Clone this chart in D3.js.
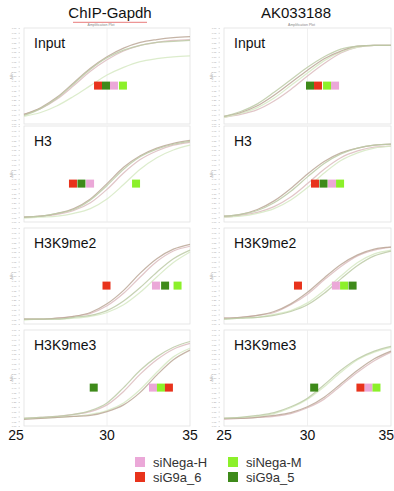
<!DOCTYPE html>
<html><head><meta charset="utf-8">
<script src="https://cdn.jsdelivr.net/npm/d3@7"></script>
<style>html,body{margin:0;padding:0;background:#fff;}svg{display:block;font-family:"Liberation Sans",Arial,Helvetica,sans-serif;}</style>
</head><body><div id="chart"></div>
<script>
// ---------- data ----------
const genes = ["ChIP-Gapdh", "AK033188"];
const panels = ["Input", "H3", "H3K9me2", "H3K9me3"];
const samples = ["siNega-H", "siNega-M", "siG9a_6", "siG9a_5"];
const cycles = [25, 26, 27, 28, 29, 30, 31, 32, 33, 34, 35];
const xTicks = [25, 30, 35];
// Ct markers, per panel, in sample order [siNega-H, siNega-M, siG9a_6, siG9a_5]
const ctGapdh = [
  [30.42, 30.96, 29.46, 29.94],
  [28.98, 31.75, 27.95, 28.46],
  [32.95, 34.25, 29.97, 33.50],
  [32.77, 33.25, 33.73, 29.20]
];
const ctAK = [
  [31.65, 31.17, 30.63, 30.15],
  [31.47, 31.95, 30.45, 30.96],
  [31.70, 32.19, 29.43, 32.70],
  [33.65, 34.13, 33.17, 30.40]
];
// amplification curves (normalised dRn at cycles 25..35), sample order as above
const curvesGapdh = [
  [[0.10,0.16,0.26,0.40,0.55,0.67,0.76,0.82,0.85,0.87,0.88],
   [0.08,0.12,0.19,0.29,0.40,0.51,0.59,0.65,0.68,0.70,0.71],
   [0.10,0.17,0.28,0.43,0.58,0.70,0.79,0.85,0.88,0.90,0.91],
   [0.09,0.16,0.27,0.42,0.57,0.69,0.77,0.82,0.85,0.86,0.87]],
  [[0.05,0.06,0.08,0.12,0.20,0.34,0.51,0.65,0.74,0.80,0.83],
   [0.04,0.05,0.06,0.09,0.14,0.24,0.39,0.55,0.67,0.75,0.80],
   [0.05,0.06,0.09,0.14,0.24,0.40,0.57,0.69,0.77,0.82,0.85],
   [0.05,0.06,0.09,0.13,0.23,0.38,0.55,0.68,0.76,0.81,0.84]],
  [[0.05,0.05,0.06,0.08,0.11,0.19,0.32,0.49,0.65,0.76,0.81],
   [0.04,0.05,0.05,0.06,0.08,0.12,0.20,0.33,0.49,0.64,0.75],
   [0.05,0.05,0.06,0.08,0.12,0.21,0.35,0.53,0.68,0.78,0.83],
   [0.05,0.05,0.05,0.07,0.09,0.14,0.24,0.38,0.54,0.68,0.77]],
  [[0.08,0.09,0.10,0.12,0.15,0.22,0.36,0.54,0.69,0.80,0.86],
   [0.08,0.08,0.09,0.10,0.12,0.16,0.24,0.38,0.56,0.72,0.81],
   [0.07,0.08,0.09,0.10,0.11,0.15,0.22,0.35,0.53,0.69,0.79],
   [0.08,0.09,0.10,0.12,0.16,0.24,0.40,0.58,0.72,0.82,0.88]]
];
const curvesAK = [
  [[0.07,0.10,0.15,0.24,0.36,0.50,0.63,0.74,0.80,0.82,0.82],
   [0.07,0.11,0.17,0.27,0.40,0.53,0.66,0.75,0.80,0.82,0.82],
   [0.08,0.12,0.19,0.30,0.43,0.56,0.68,0.76,0.81,0.82,0.82],
   [0.08,0.13,0.21,0.33,0.46,0.59,0.70,0.78,0.81,0.82,0.82]],
  [[0.05,0.07,0.10,0.16,0.26,0.40,0.55,0.67,0.74,0.78,0.79],
   [0.05,0.06,0.09,0.14,0.23,0.36,0.51,0.64,0.72,0.77,0.79],
   [0.06,0.08,0.13,0.22,0.35,0.50,0.63,0.72,0.77,0.80,0.81],
   [0.06,0.08,0.12,0.20,0.32,0.47,0.61,0.71,0.77,0.80,0.81]],
  [[0.06,0.07,0.09,0.12,0.20,0.31,0.46,0.60,0.71,0.77,0.80],
   [0.05,0.06,0.07,0.10,0.14,0.22,0.35,0.50,0.64,0.73,0.77],
   [0.06,0.07,0.09,0.13,0.21,0.33,0.48,0.62,0.72,0.78,0.80],
   [0.05,0.06,0.07,0.09,0.13,0.20,0.32,0.47,0.61,0.71,0.76]],
  [[0.07,0.08,0.09,0.10,0.13,0.19,0.28,0.42,0.56,0.68,0.77],
   [0.08,0.09,0.10,0.13,0.19,0.28,0.41,0.56,0.69,0.77,0.82],
   [0.08,0.08,0.09,0.11,0.14,0.20,0.30,0.44,0.58,0.70,0.78],
   [0.08,0.09,0.11,0.14,0.20,0.29,0.43,0.58,0.70,0.78,0.83]]
];
const yTickVals = [0,0.05,0.1,0.15,0.2,0.25,0.3,0.35,0.4,0.45,0.5,0.55,0.6,0.65,0.7,0.75,0.8,0.85,0.9,0.95,1.0];

// ---------- styles ----------
const markColors = ["#eba8d8", "#8cf02a", "#e8331c", "#3e8a1a"];
const curveColors = ["#dcbcbe", "#d6e9c3", "#bba796", "#bccaa6"];

// ---------- drawing ----------
const W = 394, H = 491;
const svg = d3.select("#chart").append("svg").attr("width", W).attr("height", H);
const cols = [
  {x0: 24, x1: 190, ct: ctGapdh, curves: curvesGapdh, titleX: 110, tickDx: [-8, 0, 0], anchor: ["middle","middle","middle"]},
  {x0: 224, x1: 391, ct: ctAK, curves: curvesAK, titleX: 296, tickDx: [0, 0, 3], anchor: ["middle","middle","end"]}
];
const tops = [28, 126, 228, 330], ph = 96;

cols.forEach((c, ci) => {
  const x = d3.scaleLinear().domain([25, 35]).range([c.x0, c.x1]);
  svg.append("text").attr("x", c.titleX).attr("y", 18).attr("text-anchor", "middle")
    .attr("font-size", 15).attr("fill", "#111").text(genes[ci]);
  svg.append("text").attr("x", (c.x0 + c.x1) / 2 - 6).attr("y", 26).attr("text-anchor", "middle")
    .attr("font-size", 3.5).attr("fill", "#888").text("Amplification Plot");

  panels.forEach((p, pi) => {
    const top = tops[pi];
    const y = d3.scaleLinear().domain([0, 1]).range([top + ph, top]);
    const g = svg.append("g");
    // frame
    g.append("rect").attr("x", c.x0).attr("y", top).attr("width", c.x1 - c.x0).attr("height", ph)
      .attr("fill", "none").attr("stroke", "#e2e2e2").attr("stroke-width", 0.8);
    g.append("line").attr("x1", x(30)).attr("x2", x(30)).attr("y1", top).attr("y2", top + ph)
      .attr("stroke", "#ececec").attr("stroke-width", 0.8);
    // tiny y axis
    const ax = g.append("g").attr("transform", `translate(${c.x0 - 4},0)`)
      .call(d3.axisLeft(y).tickValues(yTickVals).tickSize(1.5).tickFormat(d3.format(".2f")));
    ax.select(".domain").remove();
    ax.selectAll("line").attr("stroke", "#bbb").attr("stroke-width", 0.5);
    ax.selectAll("text").attr("font-size", 2.5).attr("fill", "#aaa").attr("dx", 1);
    g.append("text").attr("transform", `translate(${c.x0 - 11},${top + ph / 2}) rotate(-90)`)
      .attr("text-anchor", "middle").attr("font-size", 3.5).attr("fill", "#999").text("ΔRn");
    // curves
    const line = d3.line().x((d, i) => x(cycles[i])).y(d => y(d)).curve(d3.curveMonotoneX);
    c.curves[pi].forEach((vals, si) => {
      g.append("path").attr("d", line(vals)).attr("fill", "none")
        .attr("stroke", curveColors[si]).attr("stroke-width", 1.25).attr("opacity", 0.85);
    });
    // Ct markers
    c.ct[pi].forEach((v, si) => {
      g.append("rect").attr("x", x(v) - 4).attr("y", y(0.4) - 4).attr("width", 8).attr("height", 8)
        .attr("fill", markColors[si]);
    });
    // panel label
    g.append("text").attr("x", c.x0 + 10).attr("y", top + 20).attr("font-size", 14)
      .attr("fill", "#111").text(p);
  });

  // x tick labels
  xTicks.forEach((t, ti) => {
    svg.append("text").attr("x", x(t) + c.tickDx[ti]).attr("y", 440).attr("text-anchor", c.anchor[ti])
      .attr("font-size", 14).attr("fill", "#111").text(t);
  });
});

// spell-check squiggle under first title
(function () {
  const pts = [];
  for (let xx = 73; xx <= 147; xx += 2) pts.push([xx, 21.5 + ((xx / 2) % 2 ? 0.8 : -0.2)]);
  svg.append("path").attr("d", d3.line()(pts)).attr("fill", "none").attr("stroke", "#e04040").attr("stroke-width", 0.7);
})();

// legend
const legendPos = [[135, 457], [228, 457], [135, 472], [228, 472]];
samples.forEach((s, i) => {
  const [lx, ly] = legendPos[i];
  svg.append("rect").attr("x", lx).attr("y", ly).attr("width", 10).attr("height", 10).attr("fill", markColors[i]);
  svg.append("text").attr("x", lx + 18).attr("y", ly + 9.5).attr("font-size", 13).attr("fill", "#333").text(s);
});
</script>
</body></html>
